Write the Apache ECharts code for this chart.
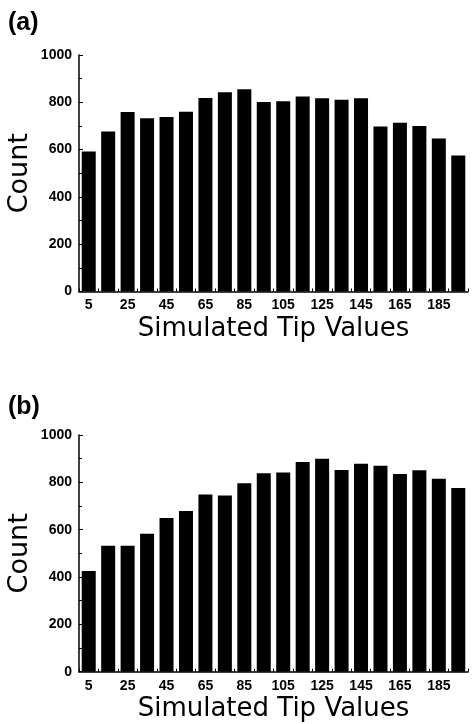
<!DOCTYPE html>
<html>
<head>
<meta charset="utf-8">
<script src="https://cdn.jsdelivr.net/npm/echarts@6/dist/echarts.min.js"></script>
<style>
html,body{margin:0;padding:0;background:#fff;}
#main{width:472px;height:724px;}
</style>
</head>
<body>
<div id="main"></div>
<script>
// 类别：模拟的 tip 值
var tipValues = [5,15,25,35,45,55,65,75,85,95,105,115,125,135,145,155,165,175,185,195];
var countA = [592,677,759,733,738,760,818,843,855,801,804,825,817,811,817,698,714,700,647,575];
var countB = [425,532,532,583,649,679,749,744,796,838,842,886,900,852,879,870,835,851,815,776];
var yTicks = {min:0, max:1000, interval:200};
var panelTitles = ["(a)","(b)"];
var xName = "Simulated Tip Values";
var yName = "Count";

var chart = echarts.init(document.getElementById("main"));

function xAxisFor(idx){
	return {
		type:"category",
		gridIndex:idx,
		data:tipValues,
		name:xName,
		nameLocation:"middle",
		nameGap:25,
		nameTextStyle:{fontFamily:"DejaVu Sans",fontSize:26,color:"#000"},
		axisLine:{lineStyle:{color:"#000",width:1.5}},
		axisTick:{show:true,inside:true,length:3,interval:0,lineStyle:{color:"#000"}},
		axisLabel:{interval:1,margin:7,color:"#000",fontFamily:"Liberation Sans",fontWeight:"bold",fontSize:14},
		splitLine:{show:false}
	};
}

function yAxisFor(idx){
	return {
		type:"value",
		gridIndex:idx,
		min:yTicks.min,
		max:yTicks.max,
		interval:yTicks.interval,
		name:yName,
		nameLocation:"middle",
		nameGap:46,
		nameMoveOverlap:false,
		nameTextStyle:{fontFamily:"DejaVu Sans",fontSize:27,color:"#000"},
		axisLine:{show:true,lineStyle:{color:"#000",width:1.5}},
		axisTick:{show:true,inside:true,length:4,lineStyle:{color:"#000"}},
		minorTick:{show:true,splitNumber:2,length:3,lineStyle:{color:"#000"}},
		axisLabel:{margin:7,color:"#000",fontFamily:"Liberation Sans",fontWeight:"bold",fontSize:14,
			formatter:function(v){ return String(v); }},
		splitLine:{show:false}
	};
}

function barSeries(idx,data){
	return {
		type:"bar",
		xAxisIndex:idx,
		yAxisIndex:idx,
		data:data,
		barCategoryGap:"28%",
		itemStyle:{color:"#000"},
		silent:true
	};
}

var titleStyle = {fontFamily:"Liberation Sans",fontWeight:"bold",fontSize:25,color:"#000"};

var option = {
	backgroundColor:"#fff",
	animation:false,
	title:[
		{text:panelTitles[0],left:3,top:6,textStyle:titleStyle},
		{text:panelTitles[1],left:3,top:390,textStyle:titleStyle}
	],
	grid:[
		{left:79,right:4,top:55,bottom:432.5,containLabel:false,outerBoundsMode:"none"},
		{left:79,right:4,top:435,bottom:52.3,containLabel:false,outerBoundsMode:"none"}
	],
	xAxis:[xAxisFor(0),xAxisFor(1)],
	yAxis:[yAxisFor(0),yAxisFor(1)],
	series:[barSeries(0,countA),barSeries(1,countB)]
};

chart.setOption(option);
</script>
</body>
</html>
